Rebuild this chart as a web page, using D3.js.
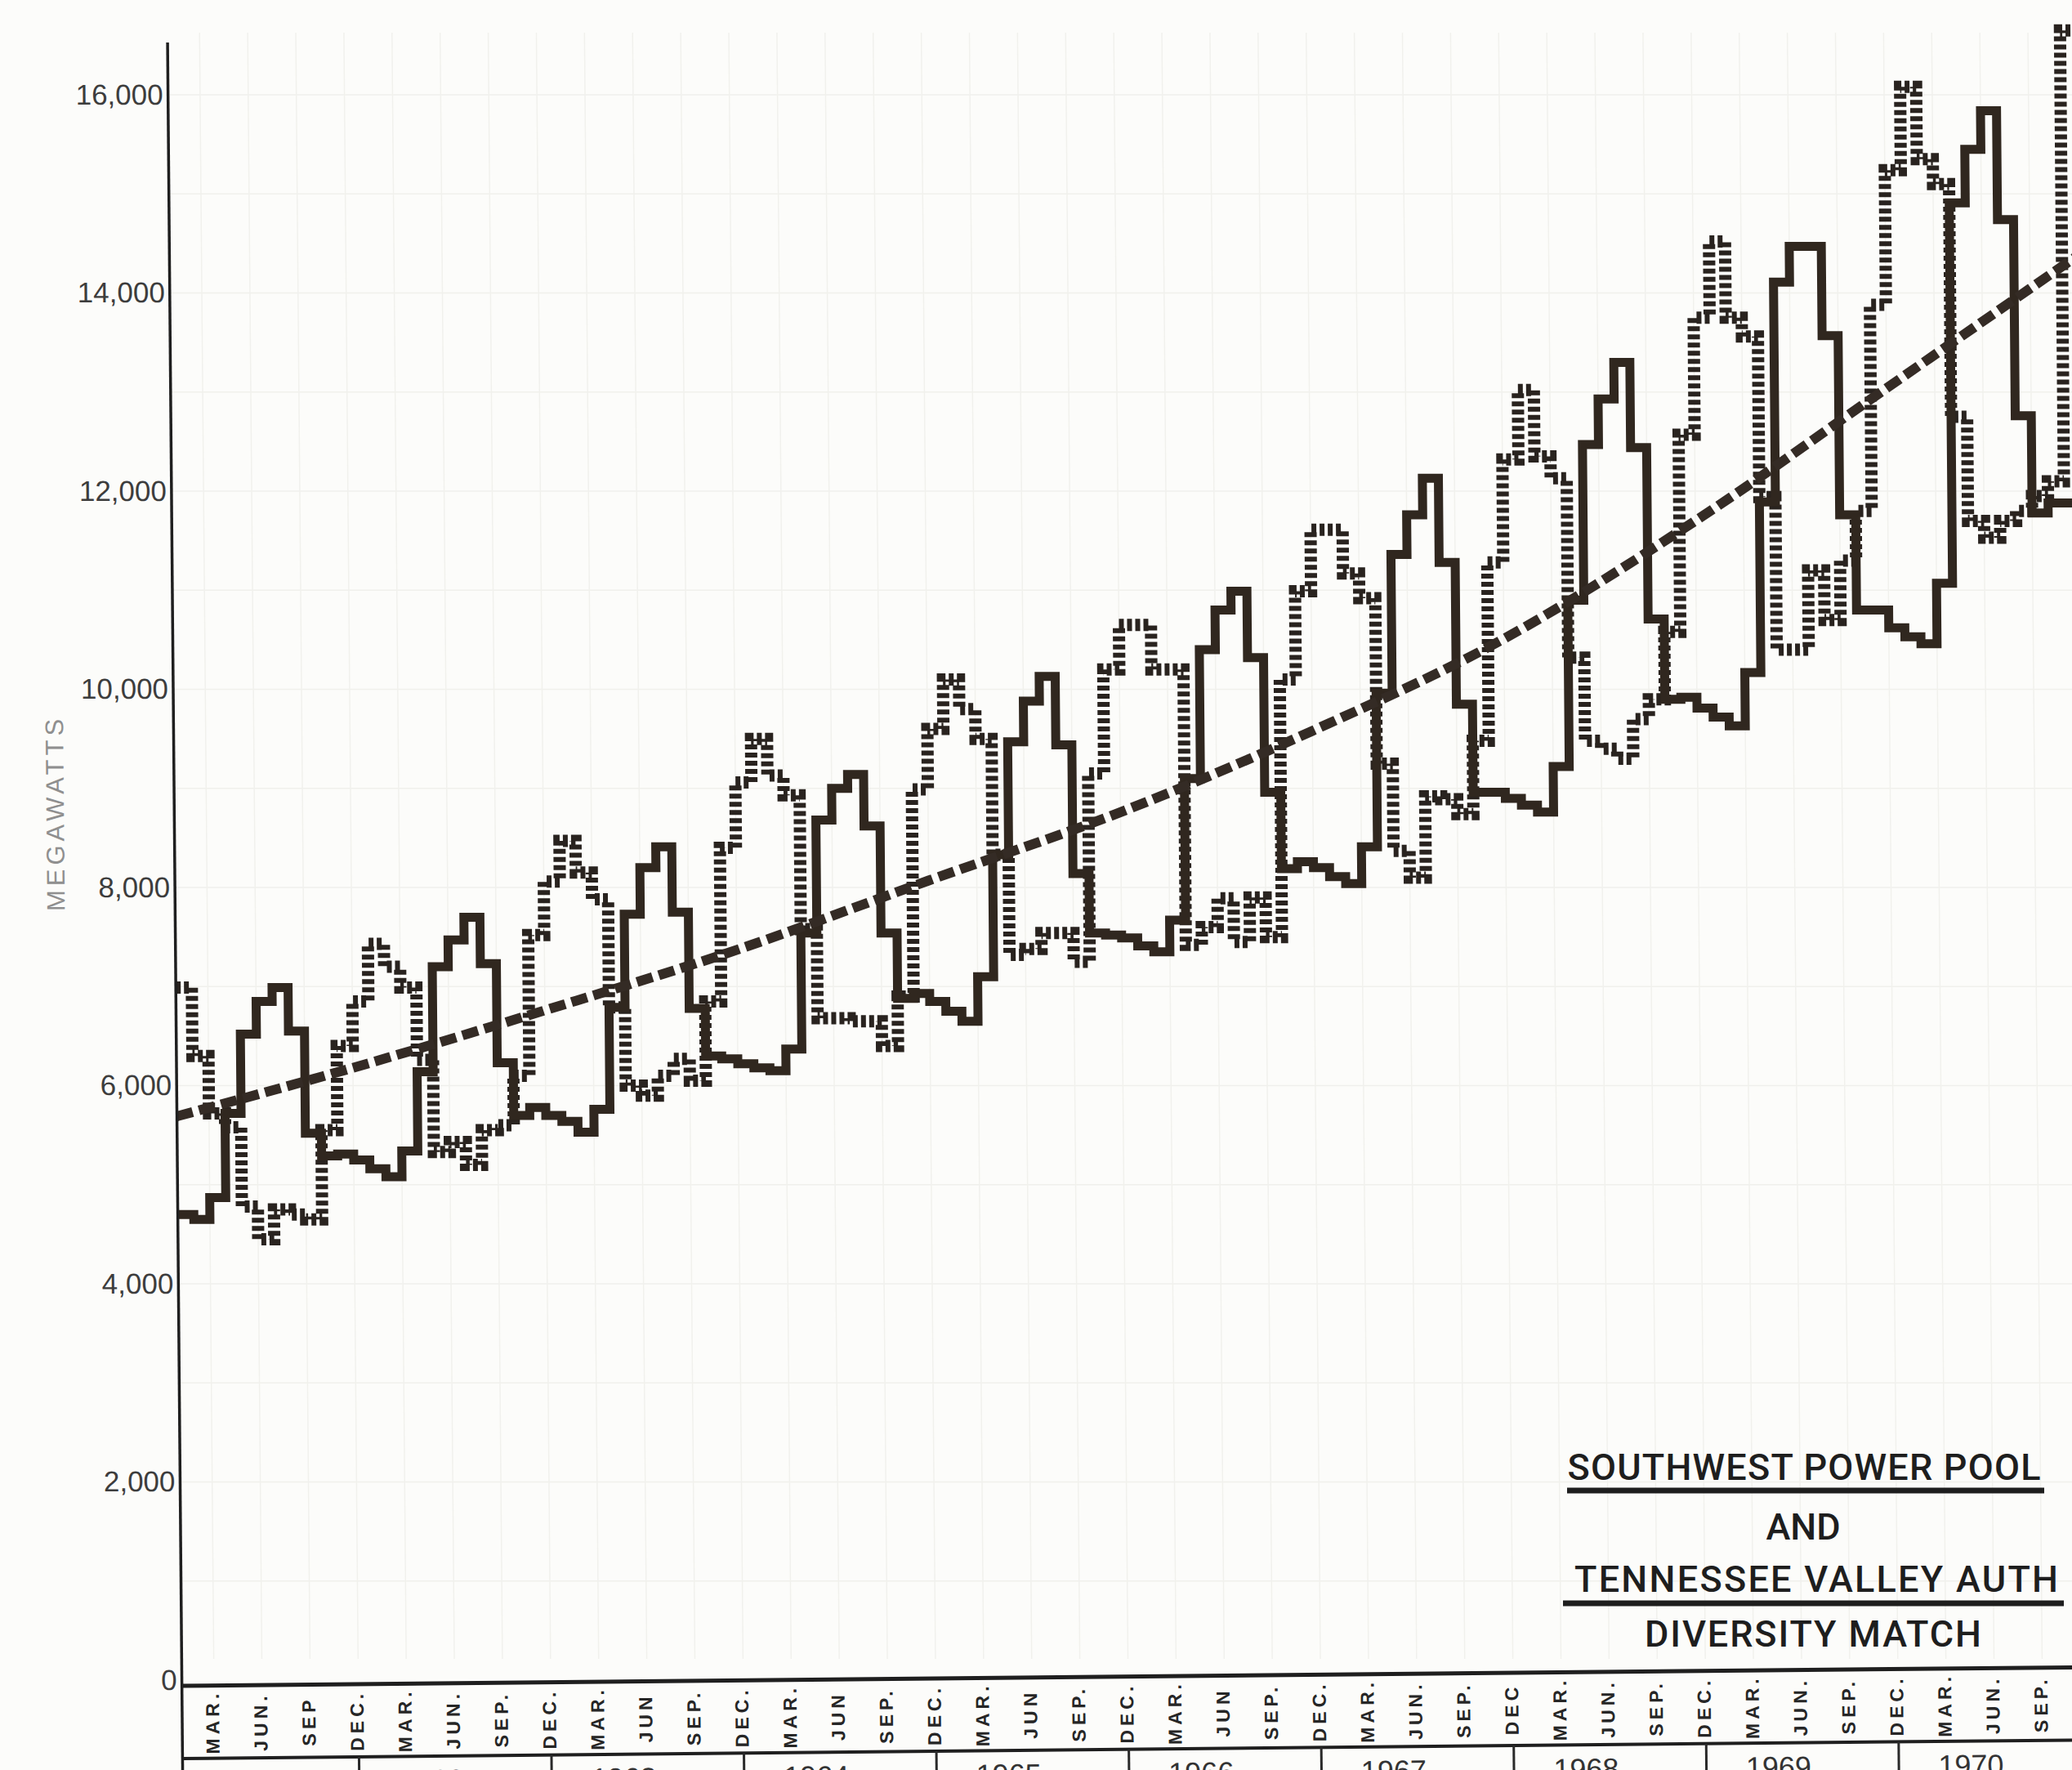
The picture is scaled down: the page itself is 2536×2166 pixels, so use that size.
<!DOCTYPE html>
<html>
<head>
<meta charset="utf-8">
<script src="https://cdn.jsdelivr.net/npm/d3@7"></script>
<style>
html, body { margin: 0; padding: 0; background: #fcfcfa; }
svg { display: block; }
</style>
</head>
<body>
<svg id="chart" width="2536" height="2166"></svg>
<script>
// Month index: 0 = Jan 1961, so the series start at 1 = Feb 1961
const FIRST_MONTH = 1;

// Southwest Power Pool monthly peak (MW), solid step line, Feb 1961 - Dec 1970
const sppPeak = [
  /*1961*/ 4700, 4650, 4870, 5720, 6520, 6850, 6990, 6550, 5520, 5290, 5310,
  /*1962*/ 5250, 5160, 5080, 5340, 6140, 7200, 7470, 7700, 7230, 6230, 5700, 5780,
  /*1963*/ 5700, 5640, 5530, 5760, 6790, 7730, 8200, 8410, 7750, 6780, 6300, 6270,
  /*1964*/ 6220, 6180, 6150, 6370, 7540, 8680, 9000, 9140, 8620, 7540, 6880, 6930,
  /*1965*/ 6850, 6750, 6650, 7100, 8330, 9470, 9880, 10130, 9440, 8140, 7540, 7520,
  /*1966*/ 7490, 7410, 7350, 7670, 9100, 10400, 10800, 10990, 10320, 8960, 8190, 8260,
  /*1967*/ 8200, 8110, 8040, 8410, 9960, 11360, 11760, 12130, 11280, 9850, 8960, 8960,
  /*1968*/ 8900, 8830, 8760, 9220, 10900, 12470, 12930, 13300, 12440, 10710, 9900, 9920,
  /*1969*/ 9810, 9720, 9630, 10170, 11890, 14110, 14470, 14470, 13570, 11760, 10800, 10800,
  /*1970*/ 10620, 10530, 10460, 11070, 14910, 15450, 15840, 14740, 12760, 11780, 11880, 11880
];

// Tennessee Valley Authority monthly peak (MW), hatched step line
const tvaPeak = [
  /*1961*/ 6990, 6300, 5720, 5580, 4780, 4450, 4750, 4700, 4650, 5550, 6400,
  /*1962*/ 6850, 7430, 7200, 6990, 6260, 5330, 5430, 5200, 5550, 5600, 6100, 7520,
  /*1963*/ 8060, 8470, 8150, 7880, 6790, 6000, 5900, 6100, 6270, 6050, 6850, 8400,
  /*1964*/ 9060, 9500, 9130, 8930, 7580, 6680, 6680, 6650, 6650, 6400, 6900, 8990,
  /*1965*/ 9600, 10100, 9800, 9500, 8330, 7320, 7380, 7540, 7540, 7250, 9150, 10200,
  /*1966*/ 10650, 10650, 10200, 10200, 7420, 7600, 7890, 7450, 7900, 7500, 10100, 10990,
  /*1967*/ 11610, 11610, 11170, 10920, 9250, 8370, 8100, 8920, 8890, 8740, 9480, 11280,
  /*1968*/ 12320, 13020, 12350, 12130, 10320, 9480, 9400, 9300, 9700, 9900, 10580, 12570,
  /*1969*/ 13750, 14520, 13750, 13560, 11940, 10400, 10400, 11200, 10700, 11300, 11800, 13880,
  /*1970*/ 15240, 16080, 15350, 15100, 12750, 11700, 11530, 11700, 11800, 11950, 12100, 16650
];

// Growth trend (heavy dashed line), read at the start of each year
const trendMonths = [1, 12, 24, 36, 48, 60, 72, 84, 96, 108, 120];
const trendValues = [5690, 6180, 6760, 7370, 8070, 8760, 9580, 10510, 11700, 13040, 14380];

const yTicks = [0, 2000, 4000, 6000, 8000, 10000, 12000, 14000, 16000];

// End-of-quarter labels along the bottom band, Mar 1961 - Sep 1970
const quarterLabels = [
  "MAR.", "JUN.", "SEP", "DEC.",
  "MAR.", "JUN.", "SEP.", "DEC.",
  "MAR.", "JUN", "SEP.", "DEC.",
  "MAR.", "JUN", "SEP.", "DEC.",
  "MAR.", "JUN", "SEP.", "DEC.",
  "MAR.", "JUN", "SEP.", "DEC.",
  "MAR.", "JUN.", "SEP.", "DEC",
  "MAR.", "JUN.", "SEP.", "DEC.",
  "MAR.", "JUN.", "SEP.", "DEC.",
  "MAR.", "JUN.", "SEP."
];
const years = [1961, 1962, 1963, 1964, 1965, 1966, 1967, 1968, 1969, 1970];

const titleLines = ["SOUTHWEST POWER POOL", "AND", "TENNESSEE VALLEY AUTH", "DIVERSITY MATCH"];

// ---- layout ----
const WIDTH = 2536, HEIGHT = 2166;
const MONTH_W = 19.63;
const X_ORIGIN = 185;          // x of Jan 1961 (before the lean of the sheet)
const LEAN = 0.00873;          // horizontal drift per pixel down (skewX 0.5 deg)
const BAND_TOP = 2063;         // heavy baseline under the plot
const BAND_BOTTOM = 2152;      // line above the year boxes
const INK = '#30271f';

const svg = d3.select('#chart');

svg.append('rect').attr('width', WIDTH).attr('height', HEIGHT).attr('fill', '#fcfcfa');

let x = d3.scaleLinear().domain([0, 120]).range([X_ORIGIN, X_ORIGIN + MONTH_W * 120]);
let y = d3.scaleLinear().domain([0, 16000]).range([2056, 116]);

// the scanned sheet leans slightly, so the chart body is skewed a touch
let chart = svg.append('g').attr('transform', 'skewX(0.5)');

chart.append('clipPath').attr('id', 'plotClip')
  .append('rect')
  .attr('x', x(FIRST_MONTH)).attr('y', 0)
  .attr('width', 2600 - x(FIRST_MONTH)).attr('height', BAND_TOP - 6);

chart.append('clipPath').attr('id', 'gridClip')
  .append('rect')
  .attr('x', x(FIRST_MONTH)).attr('y', 0)
  .attr('width', 2600 - x(FIRST_MONTH)).attr('height', 2030);

// faint graph paper
let grid = chart.append('g').attr('clip-path', 'url(#gridClip)');
grid.selectAll('line.h')
  .data(d3.range(1000, 17000, 1000))
  .join('line')
  .attr('x1', x(FIRST_MONTH)).attr('x2', 2600)
  .attr('y1', d => y(d)).attr('y2', d => y(d))
  .attr('stroke', '#f0f0ec').attr('stroke-width', 1.5);
grid.selectAll('line.v')
  .data(d3.range(3, 121, 3))
  .join('line')
  .attr('x1', d => x(d)).attr('x2', d => x(d))
  .attr('y1', 40).attr('y2', BAND_TOP)
  .attr('stroke', '#f1f1ed').attr('stroke-width', 1.5);

// turn a monthly array into step points, with one extra point closing the last month
function toSteps(values) {
  let pts = values.map((v, i) => [FIRST_MONTH + i, v]);
  pts.push([FIRST_MONTH + values.length, values[values.length - 1]]);
  return pts;
}

let stepLine = d3.line()
  .x(d => x(d[0]))
  .y(d => y(d[1]))
  .curve(d3.curveStepAfter);

let plot = chart.append('g').attr('clip-path', 'url(#plotClip)');

plot.append('path')
  .datum(toSteps(tvaPeak))
  .attr('d', stepLine)
  .attr('fill', 'none')
  .attr('stroke', '#29231f')
  .attr('stroke-width', 15)
  .attr('stroke-dasharray', '6 4');

plot.append('path')
  .datum(toSteps(sppPeak))
  .attr('d', stepLine)
  .attr('fill', 'none')
  .attr('stroke', INK)
  .attr('stroke-width', 11)
  .attr('stroke-linejoin', 'miter');

let trendLine = d3.line()
  .x(d => x(d[0]))
  .y(d => y(d[1]))
  .curve(d3.curveMonotoneX);

plot.append('path')
  .datum(trendMonths.map((m, i) => [m, trendValues[i]]))
  .attr('d', trendLine)
  .attr('fill', 'none')
  .attr('stroke', '#342b25')
  .attr('stroke-width', 12)
  .attr('stroke-dasharray', '20 8');

// y axis
let yAxis = d3.axisLeft(y)
  .tickValues(yTicks)
  .tickSize(0)
  .tickPadding(6)
  .tickFormat(d3.format(','));

let yAxisG = chart.append('g')
  .attr('transform', `translate(${x(FIRST_MONTH)},0)`)
  .call(yAxis);
yAxisG.select('.domain').remove();
yAxisG.selectAll('text')
  .attr('font-family', 'Liberation Sans, Arial, sans-serif')
  .attr('font-size', 35)
  .attr('fill', '#3d3d3d');

chart.append('line')
  .attr('x1', x(FIRST_MONTH)).attr('x2', x(FIRST_MONTH))
  .attr('y1', 52).attr('y2', HEIGHT)
  .attr('stroke', '#1f1f1f').attr('stroke-width', 3.5);

chart.append('text')
  .attr('transform', `translate(59,995) rotate(-90)`)
  .attr('text-anchor', 'middle')
  .attr('dominant-baseline', 'central')
  .attr('font-family', 'Liberation Sans, Arial, sans-serif')
  .attr('font-size', 31)
  .attr('letter-spacing', 5)
  .attr('fill', '#8f8f8f')
  .text('MEGAWATTS');

// bottom band: it tilts up to the right with the scanned sheet
const bandShift = LEAN * BAND_TOP;
const pivotX = x(FIRST_MONTH) + bandShift;
let band = svg.append('g').attr('transform', `rotate(-0.56,${pivotX},${BAND_TOP})`);

band.append('line')
  .attr('x1', pivotX).attr('x2', 2620)
  .attr('y1', BAND_TOP).attr('y2', BAND_TOP)
  .attr('stroke', '#1f1f1f').attr('stroke-width', 5);
band.append('line')
  .attr('x1', pivotX).attr('x2', 2620)
  .attr('y1', BAND_BOTTOM).attr('y2', BAND_BOTTOM)
  .attr('stroke', '#1f1f1f').attr('stroke-width', 4);

band.selectAll('text.quarter')
  .data(quarterLabels)
  .join('text')
  .attr('class', 'quarter')
  .attr('transform', (d, i) => `translate(${x(3 * i + 2.9) + bandShift},${(BAND_TOP + BAND_BOTTOM) / 2}) rotate(-90)`)
  .attr('text-anchor', 'middle')
  .attr('dominant-baseline', 'central')
  .attr('font-family', 'Liberation Sans, Arial, sans-serif')
  .attr('font-weight', 'bold')
  .attr('font-size', 23)
  .attr('letter-spacing', 5)
  .attr('fill', '#262626')
  .text(d => d);

band.selectAll('line.yearSep')
  .data(years.slice(1))
  .join('line')
  .attr('class', 'yearSep')
  .attr('x1', (d, i) => x(12 * (i + 1)) + bandShift).attr('x2', (d, i) => x(12 * (i + 1)) + bandShift)
  .attr('y1', BAND_BOTTOM).attr('y2', HEIGHT + 40)
  .attr('stroke', '#2a2a2a').attr('stroke-width', 3);

band.selectAll('text.year')
  .data(years)
  .join('text')
  .attr('class', 'year')
  .attr('x', (d, i) => x(12 * i + 4.5) + bandShift)
  .attr('y', 2194)
  .attr('text-anchor', 'middle')
  .attr('font-family', 'Liberation Sans, Arial, sans-serif')
  .attr('font-size', 36)
  .attr('fill', '#333')
  .text(d => d);

// title block in the lower right
const titleSpecs = [
  { cx: 2208, base: 1811, width: 579 },
  { cx: 2207, base: 1884, width: null },
  { cx: 2223, base: 1948, width: 592 },
  { cx: 2219, base: 2015, width: 412 }
];
let title = svg.append('g')
  .attr('font-family', 'Roboto, Liberation Sans, sans-serif')
  .attr('font-weight', 500)
  .attr('font-size', 45)
  .attr('fill', '#1e1e1e');

titleLines.forEach((line, i) => {
  let spec = titleSpecs[i];
  let t = title.append('text')
    .attr('x', spec.cx)
    .attr('y', spec.base)
    .attr('text-anchor', 'middle')
    .text(line);
  if (spec.width) {
    t.attr('textLength', spec.width).attr('lengthAdjust', 'spacing');
  }
});

title.append('line')
  .attr('x1', 1918).attr('x2', 2502).attr('y1', 1824).attr('y2', 1824)
  .attr('stroke', '#1e1e1e').attr('stroke-width', 7);
title.append('line')
  .attr('x1', 1913).attr('x2', 2526).attr('y1', 1962).attr('y2', 1962)
  .attr('stroke', '#1e1e1e').attr('stroke-width', 7);
</script>
</body>
</html>
